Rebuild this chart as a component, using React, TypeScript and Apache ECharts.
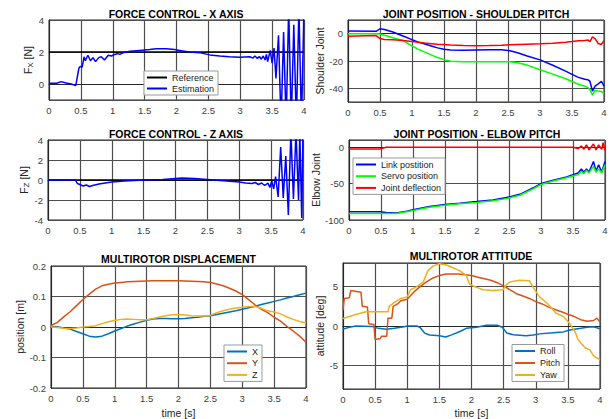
import React, { useEffect, useRef } from 'react';
import * as echarts from 'echarts';

const FONT = '"Liberation Sans", Arial, Helvetica, sans-serif';

// ---------- Force control X ----------
const fxRef = 2;
const fxT = [0, 0.12, 0.19, 0.27, 0.35, 0.42, 0.44, 0.47, 0.49, 0.52, 0.55, 0.57, 0.61, 0.65, 0.69, 0.73, 0.78, 0.82, 0.87, 0.93, 0.98, 1.03, 1.08, 1.11, 1.16, 1.27, 1.42, 1.58, 1.68, 1.84, 1.97, 2.05, 2.2, 2.36, 2.52, 2.68, 2.83, 2.99, 3.15, 3.2, 3.23, 3.27, 3.3, 3.33, 3.36, 3.39, 3.41, 3.43, 3.47, 3.5, 3.53, 3.56, 3.6, 3.64, 3.68, 3.72, 3.76, 3.8, 3.84, 3.88, 3.92, 3.96, 4.0];
const fxV = [0.05, 0.05, 0.15, 0.06, 0, -0.1, 0.35, 1.0, 1.1, 1.05, 1.7, 1.45, 1.8, 1.45, 1.65, 1.4, 1.65, 1.7, 1.5, 1.8, 1.75, 1.85, 1.9, 1.85, 1.95, 2.05, 2.1, 2.15, 2.2, 2.2, 2.15, 2.1, 2.0, 1.96, 1.82, 1.75, 1.7, 1.67, 1.7, 1.62, 1.75, 1.6, 1.72, 1.55, 1.75, 1.5, 1.85, 1.4, 2.1, 1.3, 2.25, 0.35, 3.05, -2.5, 3.25, -2.5, 4.8, -2.5, 3.7, -2.5, 4.8, -2.5, 4.8];

// ---------- Force control Z ----------
const fzRef = 0;
const fzT = [0, 0.43, 0.46, 0.5, 0.55, 0.6, 0.65, 0.7, 0.8, 0.9, 1.0, 1.2, 1.5, 1.8, 2.0, 2.1, 2.3, 2.5, 2.7, 2.9, 3.0, 3.1, 3.2, 3.25, 3.3, 3.35, 3.4, 3.45, 3.48, 3.51, 3.54, 3.57, 3.61, 3.65, 3.69, 3.73, 3.77, 3.81, 3.85, 3.89, 3.93, 3.95, 3.98, 4.0];
const fzV = [0, 0, -0.35, -0.45, -0.6, -0.5, -0.65, -0.55, -0.4, -0.3, -0.2, -0.1, 0, 0.05, 0.15, 0.2, 0.15, 0.05, -0.05, -0.15, -0.2, -0.3, -0.35, -0.25, -0.45, -0.3, -0.55, -0.3, -0.75, -0.1, -0.9, 0.35, -1.7, 3.3, -1.8, 2.4, -3.5, 4.8, -1.9, 4.8, -2.0, 4.8, -3.8, 4.8];

// ---------- Shoulder pitch ----------
const shT = [0, 0.44, 0.5, 0.57, 0.7, 0.86, 1.0, 1.1, 1.2, 1.3, 1.4, 1.5, 1.6, 1.8, 2.0, 2.2, 2.4, 2.53, 2.65, 2.8, 3.0, 3.2, 3.4, 3.5, 3.6, 3.7, 3.75, 3.78, 3.82, 3.86, 3.91, 3.96, 4.0];
const shLink = [1.9, 1.7, 3.6, 3.1, 1.2, -1.7, -4.4, -6.2, -7.6, -9.0, -10.4, -11.4, -12.0, -12.1, -11.9, -11.8, -11.8, -12.5, -14.0, -16.3, -19.2, -23.1, -27.4, -29.8, -32.0, -33.4, -33.8, -34.8, -42.0, -38.4, -36.7, -34.8, -38.4];
const shServo = [0, 0, -0.3, -1.2, -3.0, -5.0, -9.0, -11.5, -13.5, -15.5, -17.5, -19.0, -20.2, -20.5, -20.5, -20.5, -20.5, -20.6, -21.3, -23.0, -26.4, -29.6, -33.0, -35.0, -37.0, -38.5, -39.5, -40.8, -45.0, -41.5, -42.0, -42.4, -43.9];
const shDefl = [-1.9, -1.4, -3.6, -4.3, -4.4, -5.0, -5.7, -6.3, -6.9, -7.3, -7.7, -8.0, -8.3, -8.7, -8.9, -8.7, -8.4, -8.1, -7.9, -7.7, -7.4, -7.0, -6.3, -5.8, -5.2, -5.0, -4.7, -5.8, -2.4, -3.6, -7.2, -7.9, -5.0];

// ---------- Elbow pitch ----------
const elT = [0, 0.48, 0.58, 0.74, 0.9, 1.0, 1.26, 1.5, 1.73, 1.99, 2.25, 2.46, 2.67, 2.88, 2.99, 3.19, 3.4, 3.5, 3.58, 3.63, 3.67, 3.71, 3.75, 3.82, 3.86, 3.9, 3.95, 3.97, 4.0];
const elLink = [-88.7, -88.7, -89.6, -90.5, -87.8, -86.0, -81.4, -78.7, -76.9, -74.7, -72.4, -69.2, -64.7, -55.7, -50.2, -45.2, -40.7, -37.6, -35.3, -29.9, -34.4, -29.9, -33.9, -19.5, -33.0, -24.0, -34.4, -28.0, -19.5];
const elServo = [-91, -91, -91, -91, -88.7, -87, -82.4, -79.6, -77.6, -76, -73.5, -70.6, -66, -57, -51.6, -46.5, -42, -39.5, -37.6, -33, -36.2, -31.7, -35.3, -26.2, -34.4, -29.9, -35.3, -30, -24];
const elDefl = [-2.3, -2.3, 0, 0, 0, 0, 0, 0, 0, 0, 0, 0, 0, 0, 0, 0, 0, 0, -1.8, 1.8, -2.7, 3.2, -3.6, 4.5, -3.6, 3.2, -2.7, 6.3, -4.5];

// ---------- Multirotor displacement ----------
const dispT = [0, 0.1, 0.2, 0.3, 0.4, 0.5, 0.6, 0.7, 0.8, 0.9, 1.0, 1.1, 1.2, 1.3, 1.4, 1.5, 1.6, 1.7, 1.8, 1.9, 2.0, 2.1, 2.2, 2.3, 2.4, 2.5, 2.6, 2.7, 2.8, 2.9, 3.0, 3.1, 3.2, 3.3, 3.4, 3.5, 3.6, 3.7, 3.8, 3.9, 4.0];
const dispX = [0.002, 0.001, -0.003, -0.007, -0.015, -0.022, -0.03, -0.033, -0.03, -0.022, -0.013, -0.005, 0.003, 0.01, 0.016, 0.022, 0.026, 0.028, 0.028, 0.027, 0.027, 0.028, 0.03, 0.032, 0.035, 0.037, 0.041, 0.045, 0.049, 0.053, 0.058, 0.063, 0.068, 0.074, 0.079, 0.084, 0.089, 0.095, 0.1, 0.106, 0.111];
const dispY = [0.005, 0.015, 0.033, 0.05, 0.07, 0.09, 0.108, 0.124, 0.135, 0.14, 0.144, 0.146, 0.148, 0.149, 0.15, 0.151, 0.152, 0.152, 0.152, 0.152, 0.152, 0.151, 0.15, 0.149, 0.148, 0.146, 0.141, 0.135, 0.127, 0.118, 0.106, 0.09, 0.073, 0.058, 0.047, 0.032, 0.019, 0.002, -0.013, -0.03, -0.05];
const dispZ = [0, -0.002, -0.004, -0.005, -0.003, 0, 0.002, 0.004, 0.011, 0.017, 0.021, 0.025, 0.026, 0.025, 0.024, 0.024, 0.028, 0.033, 0.037, 0.04, 0.041, 0.039, 0.037, 0.036, 0.036, 0.038, 0.047, 0.053, 0.058, 0.062, 0.065, 0.067, 0.067, 0.061, 0.053, 0.049, 0.043, 0.033, 0.025, 0.018, 0.013];

// ---------- Multirotor attitude ----------
const rollT = [0, 0.1, 0.2, 0.45, 0.55, 0.68, 0.8, 0.95, 1.0, 1.15, 1.2, 1.27, 1.35, 1.5, 1.6, 1.7, 1.82, 1.92, 2.08, 2.23, 2.4, 2.48, 2.55, 2.65, 2.85, 2.96, 3.06, 3.27, 3.43, 3.53, 3.7, 3.8, 3.9, 4.0];
const rollV = [-0.4, -0.15, 0, -0.05, -0.3, -0.4, -0.3, -0.1, 0, 0, -0.2, -0.9, -1.15, -1.25, -1.4, -1.1, -0.7, -0.3, -0.15, 0.1, 0.1, -0.15, -0.9, -1.1, -1.25, -1.15, -1.0, -0.85, -0.75, -0.5, -0.3, -0.15, -0.1, -0.35];
const pitchT = [0, 0.02, 0.1, 0.12, 0.28, 0.3, 0.38, 0.4, 0.48, 0.5, 0.58, 0.6, 0.68, 0.7, 0.76, 0.78, 0.85, 0.9, 0.95, 1.0, 1.1, 1.2, 1.3, 1.4, 1.5, 1.6, 1.7, 1.8, 1.9, 2.0, 2.1, 2.2, 2.3, 2.4, 2.5, 2.6, 2.7, 2.8, 2.9, 3.0, 3.1, 3.2, 3.3, 3.4, 3.5, 3.6, 3.7, 3.8, 3.9, 3.95, 4.0];
const pitchV = [2.0, 3.5, 3.6, 4.5, 4.3, 2.5, 2.4, 0.3, 0.2, -1.7, -1.6, -1.3, -1.3, 1.0, 1.0, 2.5, 2.8, 3.2, 3.3, 3.4, 4.3, 5.0, 5.6, 6.1, 6.4, 6.6, 6.6, 6.6, 6.5, 6.4, 6.2, 6.0, 5.8, 5.5, 5.1, 4.6, 4.1, 3.8, 3.5, 3.1, 2.8, 2.4, 2.1, 1.8, 1.5, 1.2, 0.8, 0.6, 0.7, 1.0, 0.5];
const yawT = [0, 0.1, 0.2, 0.36, 0.5, 0.7, 0.72, 0.8, 0.9, 1.0, 1.05, 1.15, 1.25, 1.32, 1.4, 1.5, 1.61, 1.71, 1.82, 1.92, 1.97, 2.08, 2.18, 2.34, 2.49, 2.55, 2.6, 2.75, 2.9, 2.96, 3.06, 3.19, 3.32, 3.43, 3.53, 3.61, 3.66, 3.77, 3.84, 3.9, 4.0];
const yawV = [0.95, 1.2, 1.45, 1.8, 1.8, 1.8, 2.5, 3.0, 3.5, 3.7, 4.6, 5.0, 5.6, 7.0, 7.6, 7.9, 7.75, 7.4, 7.0, 6.4, 5.3, 4.9, 4.6, 4.5, 4.6, 5.3, 5.6, 5.8, 5.75, 4.9, 3.7, 2.8, 1.6, 1.2, 0.3, -0.7, -1.75, -2.8, -3.0, -3.8, -4.3];

const pairs = (t: number[], v: number[]) => t.map((x, i) => [x, v[i]]);

const GRID_COLOR = '#4e4e4e';
const BOX_COLOR = '#262626';
const LABEL_COLOR = '#404040';

function xAxis(gridIndex: number, name?: string, nameGap = 19) {
  return {
    type: 'value', gridIndex, min: 0, max: 4, interval: 0.5,
    name: name || '', nameLocation: 'middle', nameGap,
    nameTextStyle: { fontFamily: FONT, fontSize: 10.5, color: '#262626' },
    axisLine: { show: true, lineStyle: { color: BOX_COLOR, width: 1 } },
    axisTick: { show: false },
    axisLabel: { fontFamily: FONT, fontSize: 9.5, color: LABEL_COLOR, margin: 5 },
    splitLine: { show: true, lineStyle: { color: GRID_COLOR, width: 1.2 } },
  };
}

function yAxis(gridIndex: number, min: number, max: number, step: number, name: any, nameGap: number, rich?: any, fixed?: boolean) {
  const a: any = {
    type: 'value', gridIndex, min, max,
    name, nameLocation: 'middle', nameGap, nameRotate: 90,
    nameTextStyle: { fontFamily: FONT, fontSize: 10.5, color: '#262626', rich },
    axisLine: { show: true, lineStyle: { color: BOX_COLOR, width: 1 } },
    axisTick: { show: false },
    axisLabel: {
      fontFamily: FONT, fontSize: 9.5, color: LABEL_COLOR, margin: 5,
      formatter: (v: number) => (Math.abs(Math.round(v / step) * step - v) < 1e-9 ? String(Math.round(v * 1000) / 1000) : ''),
    },
    splitLine: { show: true, lineStyle: { color: GRID_COLOR, width: 1.2 } },
  };
  if (fixed) a.interval = step;
  else { a.minInterval = step; a.maxInterval = step; a.splitNumber = 3; }
  return a;
}

function line(name: string, xi: number, data: number[][], color: string, width = 1.5) {
  return {
    name, type: 'line', xAxisIndex: xi, yAxisIndex: xi, data,
    showSymbol: false, symbol: 'none', color,
    lineStyle: { color, width }, itemStyle: { color },
    emphasis: { disabled: true }, silent: true, clip: true,
  };
}

const subRich = {
  base: { fontFamily: FONT, fontSize: 10.5, color: '#262626', lineHeight: 14 },
  sub: { fontFamily: FONT, fontSize: 8, color: '#262626', lineHeight: 8, verticalAlign: 'bottom' },
};

const legendBase = {
  orient: 'vertical', icon: 'rect', itemWidth: 20, itemHeight: 2, itemGap: 1.7,
  padding: [1.5, 4, 1.5, 3], backgroundColor: '#ffffff', borderColor: '#9a9a9a', borderWidth: 1,
  selectedMode: false,
  textStyle: { fontFamily: FONT, fontSize: 9, lineHeight: 10, color: '#222' },
};

function title(text: string, x: number, y: number) {
  return {
    type: 'text', x, y, silent: true,
    style: { text, fill: '#000', font: `bold 10.5px ${FONT}`, textAlign: 'center', textVerticalAlign: 'middle' },
  };
}

const option: any = {
  animation: false,
  backgroundColor: '#ffffff',
  grid: [
    { left: 49, top: 20, width: 255, height: 80 },
    { left: 348, top: 20, width: 256, height: 82 },
    { left: 48, top: 140, width: 255, height: 80 },
    { left: 349, top: 140, width: 256, height: 80 },
    { left: 51, top: 266, width: 255, height: 122 },
    { left: 343, top: 263, width: 257, height: 126 },
  ].map((g) => ({ ...g, show: true, borderColor: BOX_COLOR, borderWidth: 1, backgroundColor: '#fff', containLabel: false })),
  xAxis: [xAxis(0), xAxis(1), xAxis(2), xAxis(3), xAxis(4, 'time [s]', 19), xAxis(5, 'time [s]', 18)],
  yAxis: [
    yAxis(0, -1, 4, 2, '{base|F}{sub|X}{base| [N]}', 14, subRich),
    yAxis(1, -50, 10, 20, 'Shoulder Joint', 20),
    yAxis(2, -4, 4, 2, '{base|F}{sub|Z}{base| [N]}', 14, subRich, true),
    yAxis(3, -100, 10, 50, 'Elbow Joint', 20),
    yAxis(4, -0.2, 0.2, 0.1, 'position [m]', 20, undefined, true),
    yAxis(5, -8, 8, 5, 'attitude [deg]', 14),
  ],
  legend: [
    { ...legendBase, left: 144, top: 71, itemGap: 1, data: ['Reference', 'Estimation'] },
    { ...legendBase, left: 353, top: 158, data: ['Link postition', 'Servo position', 'Joint deflection'] },
    { ...legendBase, left: 224, top: 345, data: ['X', 'Y', 'Z'] },
    { ...legendBase, left: 512, top: 344.5, itemGap: 2, data: ['Roll', 'Pitch', 'Yaw'] },
  ],
  series: [
    line('Reference', 0, [[0, fxRef], [4, fxRef]], '#000000', 1.5),
    line('Estimation', 0, pairs(fxT, fxV), '#0000ff', 1.5),
    line('Shoulder servo', 1, pairs(shT, shServo), '#00ff00', 1.5),
    line('Shoulder link', 1, pairs(shT, shLink), '#0000ff', 1.5),
    line('Shoulder deflection', 1, pairs(shT, shDefl), '#ff0000', 1.5),
    line('Reference Z', 2, [[0, fzRef], [4, fzRef]], '#000000', 1.5),
    line('Estimation Z', 2, pairs(fzT, fzV), '#0000ff', 1.5),
    line('Link postition', 3, pairs(elT, elLink), '#0000ff', 1.5),
    line('Servo position', 3, pairs(elT, elServo), '#00ff00', 1.5),
    line('Joint deflection', 3, pairs(elT, elDefl), '#ff0000', 1.5),
    line('X', 4, pairs(dispT, dispX), '#0072BD', 1.5),
    line('Y', 4, pairs(dispT, dispY), '#D95319', 1.5),
    line('Z', 4, pairs(dispT, dispZ), '#EDB120', 1.5),
    line('Roll', 5, pairs(rollT, rollV), '#0072BD', 1.5),
    line('Pitch', 5, pairs(pitchT, pitchV), '#D95319', 1.5),
    line('Yaw', 5, pairs(yawT, yawV), '#EDB120', 1.5),
  ],
  graphic: [
    title('FORCE CONTROL - X AXIS', 176, 13.5),
    title('JOINT POSITION - SHOULDER PITCH', 476, 13.5),
    title('FORCE CONTROL - Z AXIS', 176, 133.5),
    title('JOINT POSITION - ELBOW PITCH', 477, 133.5),
    title('MULTIROTOR DISPLACEMENT', 178.5, 258.5),
    title('MULTIROTOR ATTITUDE', 471, 255.5),
  ],
};

export default function App() {
  const ref = useRef<HTMLDivElement>(null);
  useEffect(() => {
    const chart = echarts.init(ref.current!, null, { renderer: 'svg' });
    chart.setOption(option);
    return () => chart.dispose();
  }, []);
  return (
    <div
      ref={ref}
      style={{ position: 'fixed', left: 0, top: 0, width: 616, height: 419, background: '#fff' }}
    />
  );
}
